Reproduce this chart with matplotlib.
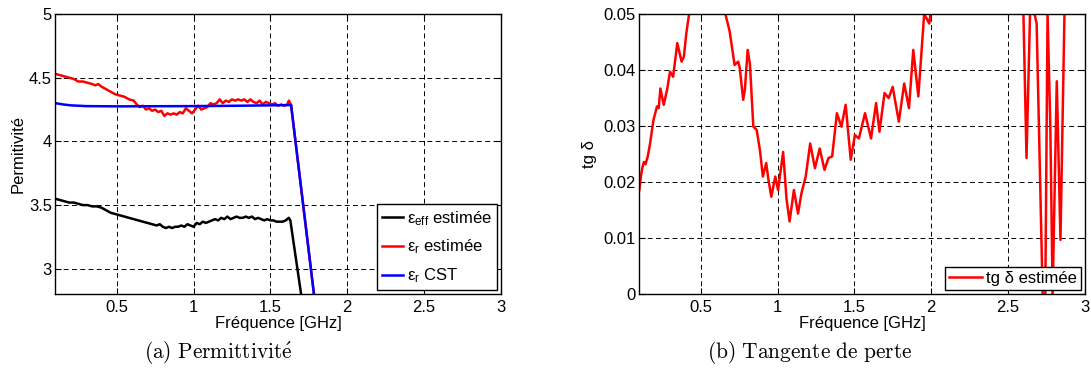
import numpy as np
import matplotlib
matplotlib.use('Agg')
import matplotlib.pyplot as plt

plt.rcParams['font.family'] = ['Liberation Sans', 'DejaVu Sans']
plt.rcParams['font.size'] = 12
plt.rcParams['mathtext.fontset'] = 'custom'
plt.rcParams['mathtext.rm'] = 'Liberation Sans'
plt.rcParams['mathtext.it'] = 'Liberation Sans'
plt.rcParams['mathtext.bf'] = 'Liberation Sans:bold'

# (a) permittivity: estimated eps_eff
f_eff = [0.10, 0.13, 0.16, 0.19, 0.22, 0.25, 0.28, 0.31, 0.34, 0.37, 0.40, 0.43, 0.46,
         0.49, 0.52, 0.55, 0.58, 0.61, 0.64, 0.67, 0.70, 0.73, 0.76, 0.78, 0.80, 0.82,
         0.84, 0.86, 0.88, 0.90, 0.92, 0.94, 0.96, 0.98, 1.00, 1.02, 1.04, 1.06, 1.08,
         1.10, 1.12, 1.14, 1.16, 1.18, 1.20, 1.22, 1.24, 1.26, 1.28, 1.30, 1.32, 1.34,
         1.36, 1.38, 1.40, 1.42, 1.44, 1.46, 1.48, 1.50, 1.52, 1.54, 1.56, 1.58, 1.60,
         1.62, 1.63, 1.71]
eps_eff = [3.55, 3.54, 3.53, 3.52, 3.52, 3.51, 3.50, 3.50, 3.49, 3.49, 3.48, 3.46, 3.44,
           3.43, 3.42, 3.41, 3.40, 3.39, 3.38, 3.37, 3.36, 3.35, 3.34, 3.35, 3.33, 3.32,
           3.33, 3.32, 3.33, 3.33, 3.34, 3.33, 3.35, 3.34, 3.33, 3.36, 3.35, 3.37, 3.36,
           3.37, 3.38, 3.39, 3.38, 3.40, 3.39, 3.41, 3.39, 3.40, 3.41, 3.40, 3.40, 3.41,
           3.40, 3.41, 3.39, 3.40, 3.39, 3.38, 3.39, 3.38, 3.38, 3.37, 3.37, 3.37, 3.38,
           3.40, 3.38, 2.72]

# estimated eps_r
f_r = [0.10, 0.13, 0.16, 0.19, 0.22, 0.25, 0.28, 0.31, 0.34, 0.36, 0.38, 0.40, 0.43,
       0.46, 0.49, 0.52, 0.55, 0.58, 0.61, 0.63, 0.65, 0.67, 0.69, 0.71, 0.73, 0.75,
       0.77, 0.79, 0.81, 0.83, 0.85, 0.87, 0.89, 0.91, 0.93, 0.95, 0.97, 0.99, 1.01,
       1.03, 1.05, 1.07, 1.09, 1.11, 1.13, 1.15, 1.17, 1.19, 1.21, 1.23, 1.25, 1.27,
       1.29, 1.31, 1.33, 1.35, 1.37, 1.39, 1.41, 1.43, 1.45, 1.47, 1.49, 1.51, 1.53,
       1.55, 1.57, 1.59, 1.61, 1.62, 1.635, 1.80]
eps_r = [4.53, 4.52, 4.51, 4.50, 4.49, 4.47, 4.47, 4.46, 4.45, 4.44, 4.45, 4.43, 4.41,
         4.39, 4.37, 4.36, 4.35, 4.33, 4.32, 4.29, 4.27, 4.28, 4.25, 4.26, 4.24, 4.25,
         4.23, 4.24, 4.20, 4.22, 4.21, 4.22, 4.21, 4.23, 4.22, 4.26, 4.24, 4.22, 4.25,
         4.28, 4.25, 4.26, 4.27, 4.30, 4.29, 4.30, 4.33, 4.30, 4.32, 4.31, 4.33, 4.32,
         4.33, 4.32, 4.33, 4.31, 4.33, 4.31, 4.30, 4.32, 4.29, 4.31, 4.30, 4.29, 4.30,
         4.28, 4.29, 4.28, 4.29, 4.32, 4.285, 2.64]

# eps_r from CST
f_cst = [0.10, 0.15, 0.20, 0.30, 0.50, 1.00, 1.30, 1.635, 1.80]
eps_cst = [4.30, 4.29, 4.283, 4.277, 4.275, 4.277, 4.28, 4.285, 2.64]

# (b) loss tangent
f_tg = [0.10, 0.11, 0.12, 0.13, 0.14, 0.155, 0.17, 0.192, 0.215, 0.226, 0.237, 0.259,
        0.28, 0.30, 0.32, 0.347, 0.375, 0.39, 0.406, 0.424, 0.46, 0.55, 0.62, 0.66,
        0.688, 0.72, 0.743, 0.753, 0.776, 0.787, 0.805, 0.82, 0.842, 0.864, 0.886,
        0.904, 0.926, 0.94, 0.959, 0.985, 1.003, 1.036, 1.058, 1.078, 1.106, 1.133,
        1.155, 1.183, 1.212, 1.243, 1.274, 1.305, 1.331, 1.355, 1.386, 1.415, 1.443,
        1.476, 1.503, 1.529, 1.569, 1.608, 1.641, 1.663, 1.696, 1.723, 1.749, 1.789,
        1.824, 1.855, 1.883, 1.916, 1.954, 1.987, 2.0, 2.05, 2.2, 2.4, 2.55, 2.59,
        2.60, 2.62, 2.643, 2.66, 2.672, 2.686, 2.725, 2.74, 2.757, 2.775, 2.79, 2.817,
        2.841, 2.867, 2.90, 3.0]
tg = [0.0186, 0.0210, 0.0226, 0.0236, 0.0232, 0.0246, 0.0269, 0.0311, 0.0335, 0.0332,
      0.0367, 0.0338, 0.0364, 0.0397, 0.0388, 0.0448, 0.0415, 0.0424, 0.0466, 0.0500,
      0.057, 0.065, 0.058, 0.0500, 0.0469, 0.0409, 0.0415, 0.0405, 0.0347, 0.0365,
      0.0436, 0.0410, 0.0299, 0.0293, 0.0255, 0.0210, 0.0234, 0.0205, 0.0174, 0.0210,
      0.0186, 0.0254, 0.0170, 0.0130, 0.0186, 0.0144, 0.0180, 0.0210, 0.0269, 0.0225,
      0.0260, 0.0222, 0.0243, 0.0246, 0.0323, 0.0299, 0.0338, 0.0240, 0.0284, 0.0278,
      0.0323, 0.0278, 0.0341, 0.0290, 0.0359, 0.0350, 0.0370, 0.0308, 0.0376, 0.0332,
      0.0436, 0.0353, 0.0500, 0.0483, 0.0510, 0.060, 0.070, 0.065, 0.060, 0.052,
      0.0500, 0.0243, 0.0500, 0.055, 0.0500, 0.0483, 0.0000, -0.008, 0.0500, 0.030,
      0.0000, 0.0380, 0.0097, 0.0500, 0.070, 0.080]

fig = plt.figure(figsize=(10.91, 3.79), dpi=100)
ax1 = fig.add_axes([0.0507, 0.2235, 0.4083, 0.7396])
ax2 = fig.add_axes([0.5860, 0.2235, 0.4084, 0.7396])

l_cst, = ax1.plot(f_cst, eps_cst, color='blue', lw=1.8, zorder=2)
l_r, = ax1.plot(f_r, eps_r, color='red', lw=1.8, zorder=1.9)
l_eff, = ax1.plot(f_eff, eps_eff, color='black', lw=1.8, zorder=2)
ax1.set_xlim(0.1, 3)
ax1.set_ylim(2.8, 5)
ax1.set_xticks([0.5, 1, 1.5, 2, 2.5, 3])
ax1.set_xticklabels(['0.5', '1', '1.5', '2', '2.5', '3'])
ax1.set_yticks([3, 3.5, 4, 4.5, 5])
ax1.set_yticklabels(['3', '3.5', '4', '4.5', '5'])
ax1.set_xlabel('Fréquence [GHz]', labelpad=1)
ax1.set_ylabel('Permitivité', labelpad=2)
leg1 = ax1.legend([l_eff, l_r, l_cst],
                  [r'$ε_{eff}$ estimée', r'$ε_{r}$ estimée', r'$ε_{r}$ CST'],
                  loc='lower right', handlelength=1.25, handletextpad=0.2,
                  borderpad=0.3, labelspacing=0.6, borderaxespad=0.25,
                  fancybox=False, framealpha=1, edgecolor='black')
leg1.get_frame().set_linewidth(1.0)

ax2.plot(f_tg, tg, color='red', lw=1.8, label='tg δ estimée')
ax2.set_xlim(0.1, 3)
ax2.set_ylim(0, 0.05)
ax2.set_xticks([0.5, 1, 1.5, 2, 2.5, 3])
ax2.set_xticklabels(['0.5', '1', '1.5', '2', '2.5', '3'])
ax2.set_yticks([0, 0.01, 0.02, 0.03, 0.04, 0.05])
ax2.set_yticklabels(['0', '0.01', '0.02', '0.03', '0.04', '0.05'])
ax2.set_xlabel('Fréquence [GHz]', labelpad=1)
ax2.set_ylabel('tg δ', labelpad=5)
leg2 = ax2.legend(loc='lower right', handlelength=2.0, handletextpad=0.2,
                  borderpad=0.25, borderaxespad=0.25, fancybox=False,
                  framealpha=1, edgecolor='black')
leg2.get_frame().set_linewidth(1.0)

for ax in (ax1, ax2):
    ax.grid(True, color='black', ls=(0, (5, 3.5)), lw=0.7)
    ax.tick_params(direction='in', top=True, right=True, length=4, width=0.8)
    ax.tick_params(axis='x', pad=4)
    ax.tick_params(axis='y', pad=2.5)
    for s in ax.spines.values():
        s.set_linewidth(1.0)

fig.text(0.2, 0.071, r'$\mathrm{(a)\ Permittivit\acute{e}}$', math_fontfamily='cm',
         fontsize=15.4, ha='center', va='center')
fig.text(0.742, 0.071, r'$\mathrm{(b)\ Tangente\ de\ perte}$', math_fontfamily='cm',
         fontsize=15.4, ha='center', va='center')

fig.savefig('out.png', dpi=100)
